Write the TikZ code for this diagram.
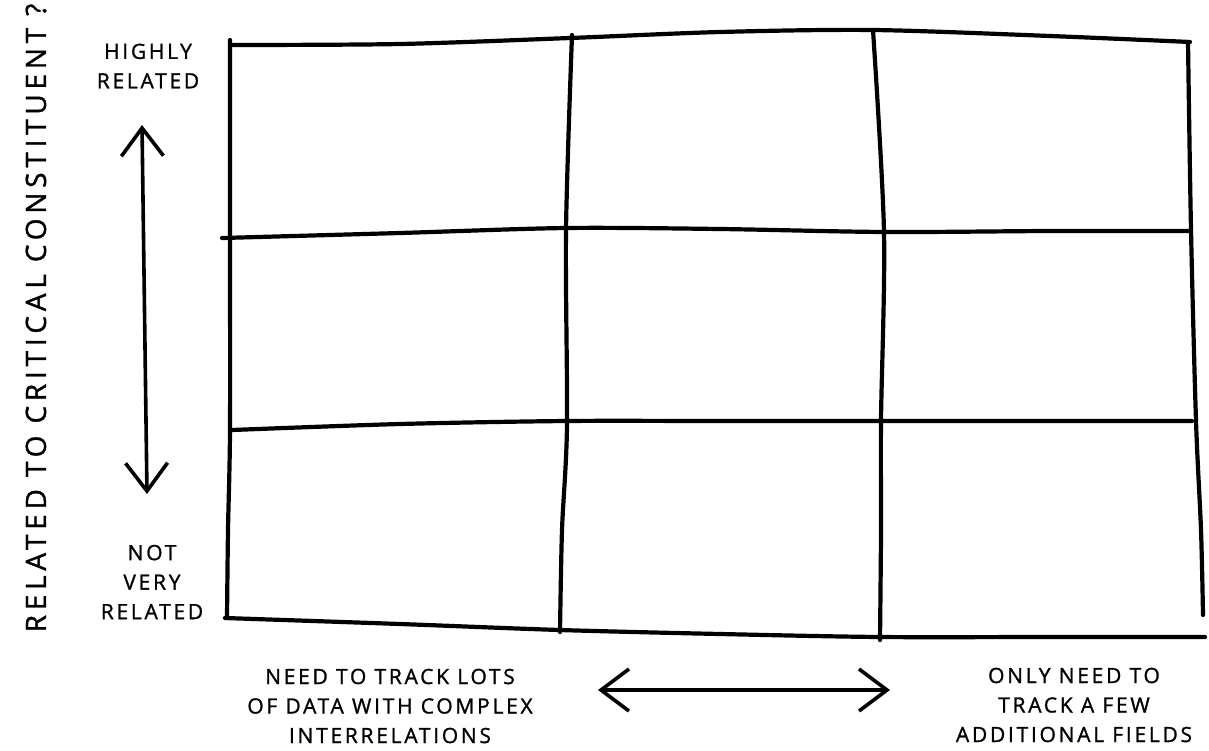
\documentclass[tikz,border=0pt]{standalone}
\usepackage{fontspec}
\setmainfont{Open Sans}
\usetikzlibrary{arrows.meta}
\tikzset{
  grid line/.style={line width=4.2pt, line cap=round, line join=round},
  lbl/.style={align=center, font=\fontsize{21}{29.5}\selectfont\addfontfeatures{LetterSpace=13,FakeBold=1.2}, inner sep=0pt},
  axis lbl/.style={font=\fontsize{28}{30}\selectfont\addfontfeatures{LetterSpace=17,FakeBold=1.2}, inner sep=0pt, rotate=90},
  dbl arrow/.style={line width=3.6pt, line cap=round, {Straight Barb[length=28pt,width=42pt,line width=3.6pt]}-{Straight Barb[length=28pt,width=42pt,line width=3.6pt]}}
}
\begin{document}
\begin{tikzpicture}[x=1pt,y=-1pt]
\path[use as bounding box] (0,0) rectangle (1209,750);
% horizontal lines
\draw[grid line] plot[smooth] coordinates {(230,45) (400,44) (570,38) (720,32) (873,30) (1050,36) (1190,42)};
\draw[grid line] plot[smooth] coordinates {(222,238) (400,233) (566,228) (720,229) (885,232) (1050,231) (1188,231)};
\draw[grid line] plot[smooth] coordinates {(232,430) (400,424) (566,421) (720,421) (880,421) (1050,421) (1192,421)};
\draw[grid line] plot[smooth] coordinates {(225,618) (400,624) (560,630) (720,634) (880,637) (1050,637) (1205,637)};
% vertical lines
\draw[grid line] plot[smooth] coordinates {(230,40) (230,230) (230,430) (228,530) (227,618)};
\draw[grid line] plot[smooth] coordinates {(572,35) (566,230) (567,425) (562,530) (560,632)};
\draw[grid line] plot[smooth] coordinates {(873,30) (884,232) (881,420) (881,530) (880,640)};
\draw[grid line] plot[smooth] coordinates {(1188,42) (1191,230) (1196,421) (1201,530) (1203,615)};
% arrows
\coordinate (vtop) at (142,125);
\coordinate (vbot) at (147,494);
\draw[dbl arrow] (vbot) -- (vtop);
\coordinate (hl) at (598,690);
\coordinate (hr) at (890,690);
\draw[dbl arrow] (hl) -- (hr);
% labels
\node[lbl] (high) at (148,66) {HIGHLY\\RELATED};
\node[lbl] (notrel) at (152,582) {NOT\\VERY\\RELATED};
\node[lbl] (left) at (390,706) {NEED TO TRACK LOTS\\OF DATA WITH COMPLEX\\INTERRELATIONS};
\node[lbl] (right) at (1074,705) {ONLY NEED TO\\TRACK A FEW\\ADDITIONAL FIELDS};
\node[axis lbl] (axis) at (36,318) {RELATED TO CRITICAL CONSTITUENT ?};
\end{tikzpicture}
\end{document}
